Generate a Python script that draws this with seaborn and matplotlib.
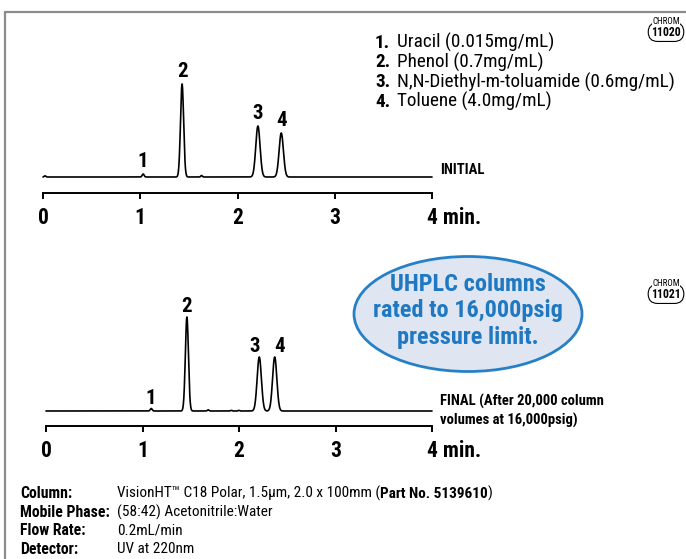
import numpy as np
import pandas as pd
import matplotlib
matplotlib.use("Agg")
import matplotlib.pyplot as plt
from matplotlib.patches import Ellipse
from matplotlib.lines import Line2D
import seaborn as sns

# peak table: retention time (min), height above baseline, sigma (min)
peak_labels = ["1", "2", "3", "4"]
initial_rt = [1.03, 1.43, 2.21, 2.45]
initial_h = [3.0, 93.0, 51.0, 44.0]
initial_sigma = [0.010, 0.016, 0.022, 0.022]
final_rt = [1.09, 1.46, 2.21, 2.37]
final_h = [2.5, 94.0, 54.0, 54.0]
final_sigma = [0.010, 0.016, 0.022, 0.022]

# small baseline disturbances
initial_minor_rt = [0.02, 1.63]
initial_minor_h = [1.2, 1.5]
final_minor_rt = [1.68, 1.92, 2.00]
final_minor_h = [1.2, 0.6, 0.6]

compounds = ["Uracil (0.015mg/mL)", "Phenol (0.7mg/mL)",
             "N,N-Diethyl-m-toluamide (0.6mg/mL)", "Toluene (4.0mg/mL)"]
tick_pos = [0, 1, 2, 3]
tick_text = ["0", "1", "2", "3"]

cond_keys = ["Column:", "Mobile Phase:", "Flow Rate:", "Detector:"]
cond_vals = ["VisionHT\u2122 C18 Polar, 1.5\u00b5m, 2.0 x 100mm (", "(58:42) Acetonitrile:Water",
             "0.2mL/min", "UV at 220nm"]
part_no = "Part No. 5139610"

sns.set_style("white")
plt.rcParams["font.family"] = ["Roboto Condensed", "DejaVu Sans"]
plt.rcParams["text.color"] = "black"
plt.rcParams["xtick.color"] = "black"

W, H = 686, 559
fig = plt.figure(figsize=(W / 100, H / 100), dpi=100)
fx = lambda px: px / W
fy = lambda py: 1 - py / H


def trace(rt, h, sig, mrt, mh):
    t = np.linspace(0, 4, 2401)
    y = np.zeros_like(t)
    for r, a, s in zip(rt, h, sig):
        y += a * np.exp(-0.5 * ((t - r) / s) ** 2)
    for r, a in zip(mrt, mh):
        y += a * np.exp(-0.5 * ((t - r) / 0.008) ** 2)
    return pd.DataFrame({"time": t, "signal": y})


def chrom_axes(left, right, axis_y, top_y, base_gap):
    ax = fig.add_axes([fx(left), fy(axis_y), fx(right - left), (axis_y - top_y) / H])
    ax.set_xlim(0, 4)
    ax.set_ylim(-base_gap, axis_y - top_y - base_gap)
    for s in ["top", "right", "left"]:
        ax.spines[s].set_visible(False)
    ax.spines["bottom"].set_linewidth(1.4)
    ax.spines["bottom"].set_color("black")
    ax.set_yticks([])
    ax.set_xticks(tick_pos + [4])
    ax.set_xticklabels(tick_text + [""])
    ax.tick_params(axis="x", direction="out", length=4.5, width=1.4, pad=5.5,
                   labelsize=15.5, bottom=True)
    for lab in ax.get_xticklabels():
        lab.set_fontweight("bold")
    ax.annotate("4 min.", xy=(4, 0), xycoords=("data", "axes fraction"),
                xytext=(-3.5, -10), textcoords="offset points", ha="left", va="top",
                fontsize=15.5, fontweight="bold")
    ax.patch.set_alpha(0)
    return ax


# ---- INITIAL ----
ax1 = chrom_axes(43, 432, 193, 60, 16)
d1 = trace(initial_rt, initial_h, initial_sigma, initial_minor_rt, initial_minor_h)
sns.lineplot(data=d1, x="time", y="signal", ax=ax1, color="black", lw=1.2, clip_on=False)
ax1.set_xlabel("")
ax1.set_ylabel("")
for lab, r, a in zip(peak_labels, initial_rt, initial_h):
    ax1.text(r, a + 3, lab, ha="center", va="bottom", fontsize=15, fontweight="bold")
ax1.text(4.08, 0, "INITIAL", ha="left", va="bottom", fontsize=10.5, fontweight="bold")

# ---- FINAL ----
ax2 = chrom_axes(46, 432, 426, 290, 15)
d2 = trace(final_rt, final_h, final_sigma, final_minor_rt, final_minor_h)
sns.lineplot(data=d2, x="time", y="signal", ax=ax2, color="black", lw=1.2, clip_on=False)
ax2.set_xlabel("")
ax2.set_ylabel("")
label_dx = [0.0, 0.0, -0.05, 0.05]
for lab, r, a, dx in zip(peak_labels, final_rt, final_h, label_dx):
    ax2.text(r + dx, a + 1.0, lab, ha="center", va="bottom", fontsize=15, fontweight="bold")
ax2.text(4.08, 0, "FINAL (After 20,000 column\nvolumes at 16,000psig)", ha="left", va="center",
         fontsize=10.5, fontweight="bold", linespacing=1.3)

# ---- compound legend ----
for i, name in enumerate(compounds):
    y = fy(42.5 + 19.8 * i)
    fig.text(fx(375), y, f"{i + 1}.", ha="left", va="center", fontsize=13.8, fontweight="bold")
    fig.text(fx(397), y, name, ha="left", va="center", fontsize=13.8)

# ---- callout ellipse ----
fig.add_artist(Ellipse((fx(468), fy(314)), width=fx(228), height=115 / H,
                       transform=fig.transFigure, facecolor="#dfe6f1",
                       edgecolor="#2680c6", lw=2.0))
fig.text(fx(468), fy(311), "UHPLC columns\nrated to 16,000psig\npressure limit.",
         ha="center", va="center", fontsize=17.5, fontweight="bold", color="#1f78c1",
         linespacing=1.17)

# ---- CHROM badges ----
for cid, py in [("11020", 30), ("11021", 292)]:
    fig.text(fx(666), fy(py + 2), cid, ha="center", va="center", fontsize=8.5, fontweight="bold",
             bbox=dict(boxstyle="round,pad=0.25,rounding_size=0.8", fc="white", ec="black", lw=0.8))
    fig.text(fx(666), fy(py - 8), "CHROM", ha="center", va="center", fontsize=6.5,
             bbox=dict(boxstyle="square,pad=0.05", fc="white", ec="none"))

# ---- conditions ----
for i, (k, v) in enumerate(zip(cond_keys, cond_vals)):
    y = fy(493.5 + 18.6 * i)
    fig.text(fx(20), y, k, ha="left", va="center", fontsize=11.3, fontweight="bold")
    t = fig.text(fx(117), y, v, ha="left", va="center", fontsize=11)
    if i == 0:
        a = plt.annotate(part_no, xy=(1, 0), xycoords=t, va="bottom", ha="left",
                         fontsize=11, fontweight="bold")
        plt.annotate(")", xy=(1, 0), xycoords=a, va="bottom", ha="left", fontsize=11)

# ---- frame ----
fig.add_artist(Line2D([fx(5), 1], [fy(12), fy(12)], color="#8c8c8c", lw=1.6))
fig.add_artist(Line2D([fx(5), fx(5)], [fy(12), 0], color="#8c8c8c", lw=1.6))

fig.savefig("out.png", dpi=100, facecolor="white")
